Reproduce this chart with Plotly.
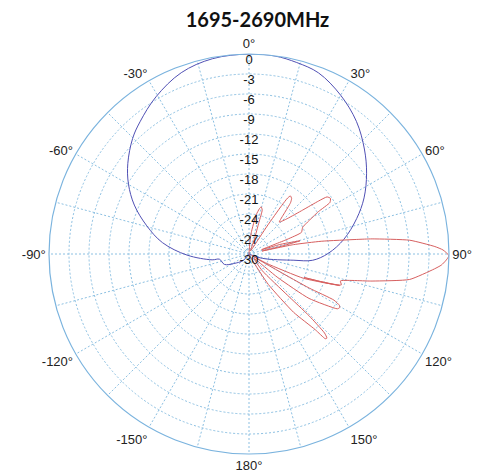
import plotly.graph_objects as go

# ---------------- data ----------------
title_text = "1695-2690MHz"

radial_ticks = [0, -3, -6, -9, -12, -15, -18, -21, -24, -27, -30]
radial_labels = ["0", "-3", "-6", "-9", "-12", "-15", "-18", "-21", "-24", "-27", "-30"]

angle_ticks = list(range(0, 360, 15))
angle_labels = ["0°", "", "30°", "", "60°", "", "90°", "", "120°", "", "150°", "",
                "180°", "", "-150°", "", "-120°", "", "-90°", "", "-60°", "", "-30°", ""]

# blue pattern (theta deg, level dB)
blue_theta = [-180, -150, -140, -138, -122, -113, -100, -99, -91, -82.5, -74.6, -66.9,
              -59.9, -53.2, -45.2, -39.5, -30.6, -20.5, -10.6, 0, 7.5, 14, 21, 30, 39,
              47.7, 55.5, 64, 71.8, 81.2, 89.5, 95.6, 97.9, 108, 120, 150, 180]
blue_db = [-30, -30, -30, -28.7, -27.3, -26.0, -25.5, -24.4, -20.7, -16.9, -14.1, -11.3,
           -9.1, -7.3, -5.4, -4.3, -2.6, -0.97, -0.2, 0, -0.05, -0.4, -0.9, -2.5, -4.4,
           -6.6, -8.6, -10.8, -13.0, -15.6, -18.1, -20.4, -23.2, -27.9, -30, -30, -30]

# red pattern (theta deg, level dB)
red_theta = [-180, -90, 0, 4, 6, 10.2, 13, 14.5, 16.7, 17.4, 20, 25,
             31, 33, 34, 34.6, 35.5, 37.5, 39, 40.9, 43.5,
             47.2, 50.7, 52.7, 53.8, 55.6, 57.5, 58.6, 61.4, 63.5, 67.6, 69, 71,
             73, 75.5, 76.5, 77.2,
             78.1, 80, 82.3, 83, 85.1, 87.7, 88.8, 90.5, 92, 93.3, 94.6, 99, 102.4, 106.4,
             108.5, 110.5, 113.1, 111, 109.2, 114, 118, 119,
             120, 119.5, 118.5, 119.6, 120.6, 121.8, 126.5, 129.3, 132,
             141.5, 137, 135.8, 136.3, 137.2, 138, 138.8, 142.6, 147.6, 152, 180]
red_db = [-30, -30, -30, -28.5, -26.8, -24.1, -23.0, -22.7, -23.1, -25.0, -27.7, -29.5,
          -29, -25, -21.2, -19.8, -19.3, -19.5, -20.1, -21.9, -23.4,
          -22.2, -19.6, -16.9, -15.5, -15.2, -15.6, -17.8, -20.0, -21.0, -21.5, -23.9, -28,
          -25, -22.1, -25, -28,
          -23.2, -19, -13.7, -11.4, -5.8, -2.1, -0.9, 0, -0.5, -1.1, -2.1, -5.6, -11.1, -15.7,
          -15.4, -17.5, -21.0, -18.5, -15.6, -21, -27, -29.5,
          -25.0, -19.6, -15.5, -14.4, -14.2, -14.4, -18.8, -24.4, -29,
          -26.8, -21.6, -17.1, -13.6, -12.8, -12.9, -14.9, -19.0, -24.6, -29, -30]

# ---------------- styling ----------------
GRID = "#8cc0e2"
EDGE = "#7ab3de"
BLUE = "#5050b4"
RED = "#d65f5f"
FONT = "Liberation Sans, Arial, sans-serif"

fig = go.Figure()
fig.add_trace(go.Scatterpolar(r=blue_db, theta=blue_theta, mode="lines",
                              line=dict(color=BLUE, width=1, shape="spline", smoothing=1),
                              showlegend=False, hoverinfo="skip"))
fig.add_trace(go.Scatterpolar(r=red_db, theta=red_theta, mode="lines",
                              line=dict(color=RED, width=1, shape="spline", smoothing=0.5),
                              showlegend=False, hoverinfo="skip"))
fig.add_trace(go.Scatterpolar(r=radial_ticks, theta=[0] * len(radial_ticks),
                              mode="text", text=radial_labels,
                              textposition="bottom center",
                              textfont=dict(family=FONT, size=13, color="#111"),
                              showlegend=False, hoverinfo="skip", cliponaxis=False))

# page body has an 8px margin: figure pixel = screen pixel - 8
W, H = 481, 464
R = 200
cx, cy = 241, H - 246
fig.update_layout(
    width=W, height=H,
    margin=dict(l=0, r=0, t=0, b=0),
    paper_bgcolor="white",
    title=dict(text="<b>" + title_text + "</b>", x=249.5 / W, xanchor="center",
               y=1 - 12 / H, yanchor="middle",
               font=dict(family="Lato, Open Sans, sans-serif", size=20, color="#111")),
    polar=dict(
        domain=dict(x=[(cx - R) / W, (cx + R) / W], y=[(cy - R) / H, (cy + R) / H]),
        bgcolor="white",
        angularaxis=dict(rotation=90, direction="clockwise",
                         tickmode="array", tickvals=angle_ticks, ticktext=angle_labels,
                         ticks="", showline=True, linecolor=EDGE, linewidth=1.2,
                         gridcolor=GRID, griddash="2px,2px", gridwidth=1,
                         tickfont=dict(family=FONT, size=13, color="#222")),
        radialaxis=dict(range=[-30, 0], tickmode="array", tickvals=radial_ticks,
                        showticklabels=False, ticks="", showline=False,
                        gridcolor=GRID, griddash="2px,2px", gridwidth=1),
    ),
)

fig.write_html("out.html")
